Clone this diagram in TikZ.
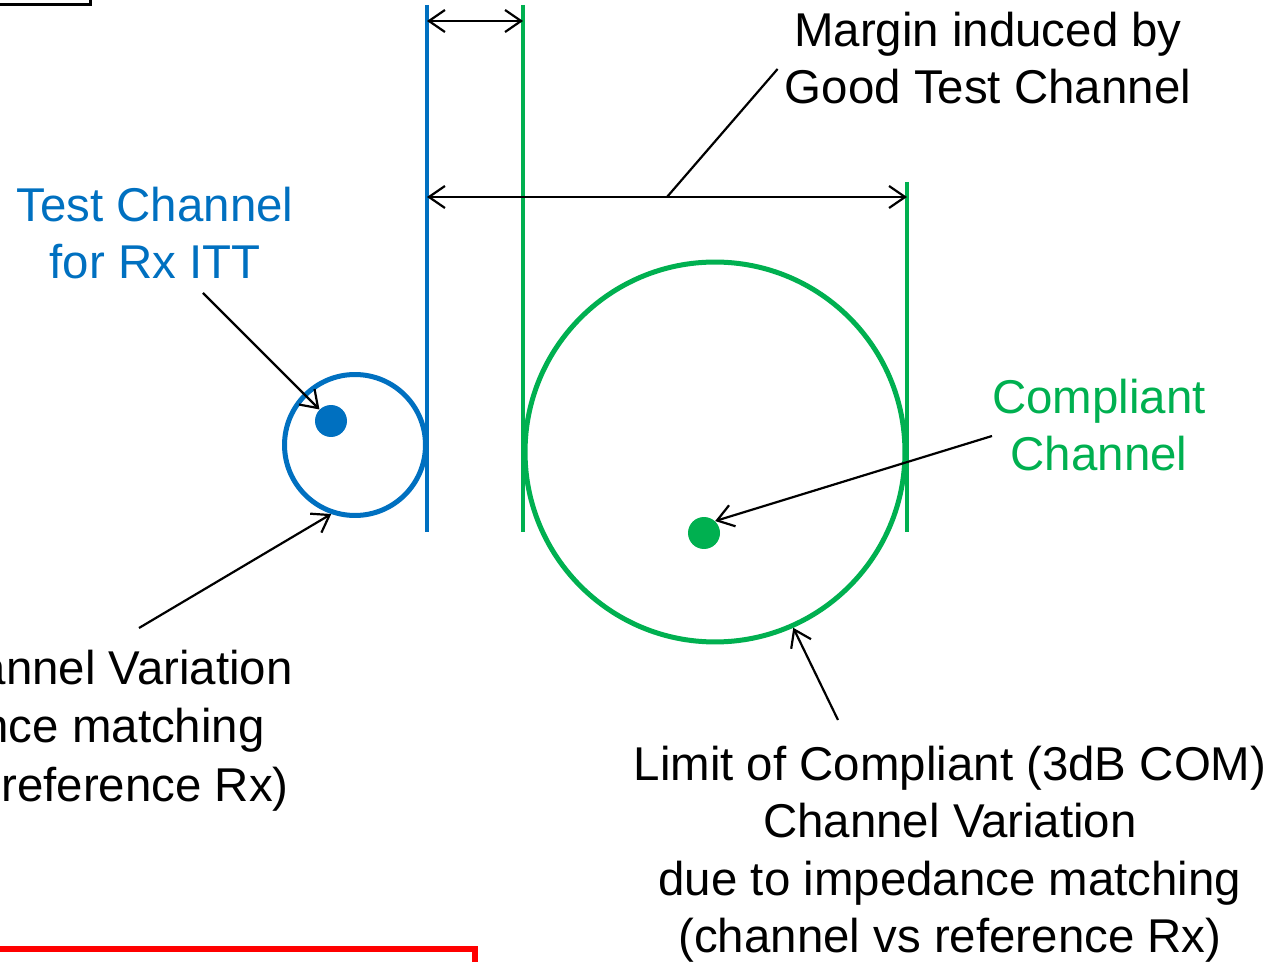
\documentclass[tikz,border=0pt]{standalone}
\usepackage{fontspec}
\setmainfont{Liberation Sans}
\usetikzlibrary{arrows.meta,positioning}
\definecolor{ittblue}{HTML}{0070C0}
\definecolor{comgreen}{HTML}{00B050}
\tikzset{>={Straight Barb[length=3.2mm,width=4.4mm]}}
\tikzset{lbl/.style={align=center,inner sep=0pt,font=\fontsize{27}{32.7}\selectfont}}
\tikzset{ptr/.style={->,line width=1.25pt}}

\begin{document}
\begin{tikzpicture}[x=0.02cm,y=-0.02cm,
        bound/.style={line width=0.085cm},
        ring/.style={circle,draw,line width=0.1cm,inner sep=0pt},
        dot/.style={circle,fill,inner sep=0pt,minimum size=0.64cm}]
    \useasboundingbox (0,0) rectangle (1285,962);
    % frame edges
    \draw[line width=0.06cm] (-10,5) -- (90.5,5) -- (90.5,-10);
    \draw[red,line width=0.115cm] (-10,949) -- (474.7,949) -- (474.7,975);

    % limits
    \coordinate (rxtop) at (427,5);
    \coordinate (rxbot) at (427,532);
    \coordinate (goodtop) at (523,5);
    \coordinate (goodbot) at (523,532);
    \coordinate (comtop) at (907,182);
    \coordinate (combot) at (907,532);
    \draw[bound,ittblue] (rxtop) -- (rxbot);
    \draw[bound,comgreen] (goodtop) -- (goodbot);
    \draw[bound,comgreen] (comtop) -- (combot);

    % channels
    \node[ring,ittblue,minimum size=2.82cm] (rxring) at (355,445) {};
    \node[dot,ittblue] (rxdot) at (331,421) {};
    \node[ring,comgreen,minimum size=7.6cm] (comring) at (715,452) {};
    \node[dot,comgreen] (comdot) at (704,533) {};

    % labels
    \node[lbl] (marginlbl) at (988,58) {Margin induced by\\Good Test Channel};
    \node[lbl,ittblue] (rxlbl) at (155,233) {Test Channel\\for Rx ITT};
    \node[lbl,comgreen] (comlbl) at (1099,425) {Compliant\\Channel};
    \node[lbl] (limitlbl) at (950,854) {Limit of Compliant (3dB COM)\\Channel Variation\\due to impedance matching\\(channel vs reference Rx)};
    \node[lbl,anchor=base east] (var1) at (293,684) {annel Variation};
    \node[lbl,anchor=base east] (var2) at (265,742.5) {nce matching};
    \node[lbl,anchor=base east] (var3) at (289,801) {reference Rx)};

    % margins
    \coordinate (gapl) at (427,21);
    \coordinate (gapr) at (523,21);
    \coordinate (marl) at (427,197);
    \coordinate (marr) at (907,197);
    \coordinate (lead) at (667,197);
    \draw[ptr,<->] (gapl) -- (gapr);
    \draw[ptr,<->] (marl) -- (marr);
    \draw[line width=1.25pt] (lead) -- ([shift={(-7,11)}]marginlbl.west);

    % pointers
    \coordinate (rxtail) at (203,293);
    \coordinate (vartail) at (139,628);
    \coordinate (comtail) at (992,436);
    \coordinate (limittail) at (838,720);
    \draw[ptr] (rxtail) -- (rxdot.135);
    \draw[ptr] (vartail) -- (rxring.251);
    \draw[ptr] (comtail) -- (comdot.47);
    \draw[ptr] (limittail) -- (comring.294);
\end{tikzpicture}
\end{document}
